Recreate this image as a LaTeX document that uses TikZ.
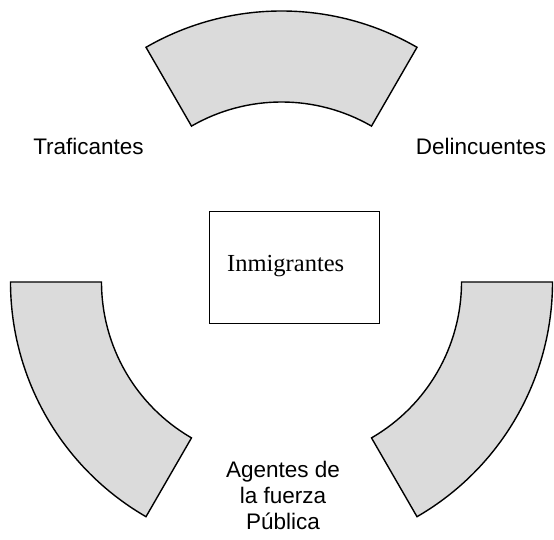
\documentclass[tikz,border=0pt]{standalone}
\usepackage{fontspec}
\setmainfont{Liberation Serif}
\setsansfont{Liberation Sans}
\usetikzlibrary{positioning}
\tikzset{
    band/.style={
        draw=black, line width=1.4pt,
        fill=black!14, line join=miter
    },
    centerbox/.style={
        rectangle, draw=black, line width=0.9pt,
        minimum width=170pt, minimum height=112pt,
        fill=white
    },
    centertext/.style={font=\fontsize{24.5}{28}\selectfont, inner sep=0pt},
    actor/.style={
        font=\sffamily\fontsize{22.5}{26}\selectfont,
        inner sep=0pt, align=center
    }
}

\begin{document}
\begin{tikzpicture}[x=1pt, y=1pt]

\useasboundingbox (0,0) rectangle (554,540);

% Ring center
\coordinate (c) at (281.5,258);

% Ring bands
\draw[band] ([shift={(60:271pt)}]c) arc[start angle=60, end angle=120, radius=271pt]
    -- ([shift={(120:180pt)}]c) arc[start angle=120, end angle=60, radius=180pt] -- cycle;
\draw[band] ([shift={(180:271pt)}]c) arc[start angle=180, end angle=240, radius=271pt]
    -- ([shift={(240:180pt)}]c) arc[start angle=240, end angle=180, radius=180pt] -- cycle;
\draw[band] ([shift={(300:271pt)}]c) arc[start angle=300, end angle=360, radius=271pt]
    -- ([shift={(360:180pt)}]c) arc[start angle=360, end angle=300, radius=180pt] -- cycle;

% Center box
\node[centerbox] (inm) at (294,273) {};
\node[centertext, anchor=base west] (inmtext) at (227,268) {Inmigrantes};

% Actors
\node[actor, anchor=base] (traf) at (88.5,385) {Traficantes};
\node[actor, anchor=base] (delin) at (481,385) {Delincuentes};
\node[actor, anchor=base] (agent) at (283,10) {Agentes de\\la fuerza\\Pública};

\end{tikzpicture}
\end{document}
